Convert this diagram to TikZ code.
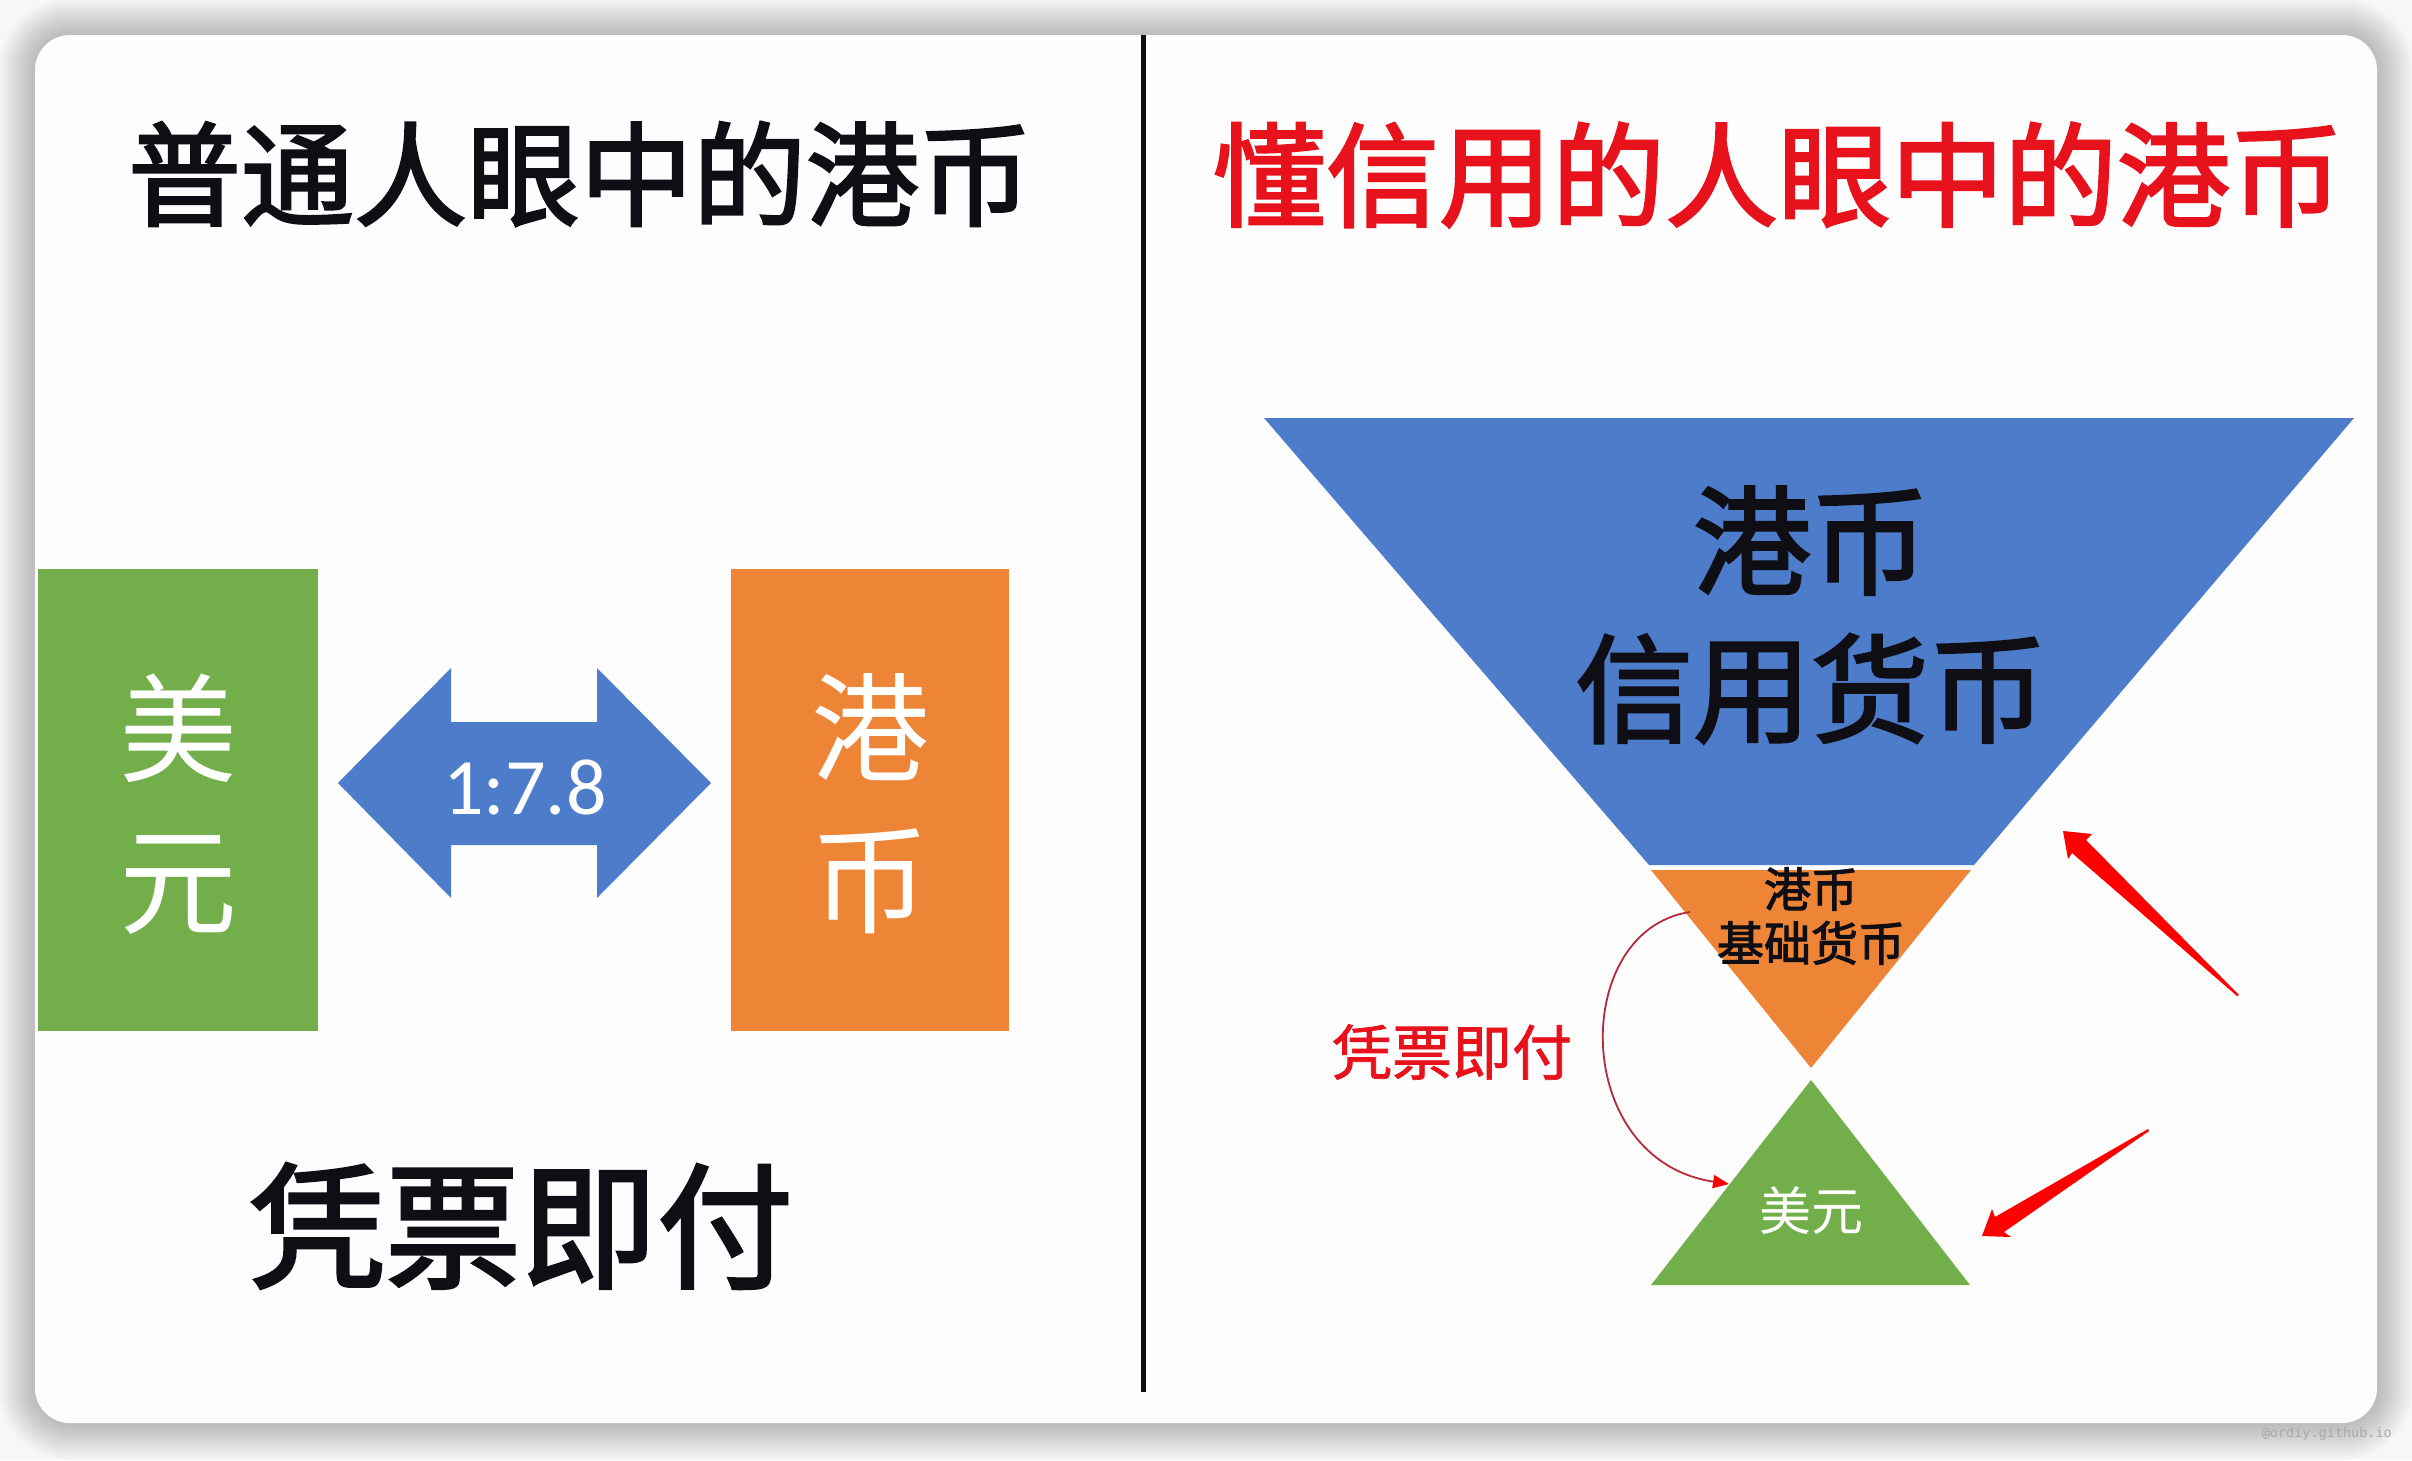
\documentclass[tikz,border=0pt]{standalone}
\usepackage{fontspec}
\newfontfamily\cjk{Noto Sans CJK SC}
\newfontfamily\cjkm{Noto Sans CJK SC}[FakeBold=2.2]
\newfontfamily\cjks{Noto Sans CJK SC}[FakeBold=1.2]
\newfontfamily\cali{Carlito}
\newfontfamily\monof{DejaVu Sans Mono}
\usetikzlibrary{arrows.meta}
\definecolor{bgout}{HTML}{F7F7F7}
\definecolor{cardfill}{HTML}{FDFDFD}
\definecolor{ogreen}{HTML}{72AE4A}
\definecolor{oorange}{HTML}{EE8436}
\definecolor{oblue}{HTML}{4C7CCA}
\definecolor{titlered}{HTML}{E8121C}
\definecolor{inkblack}{HTML}{0E0E14}
\definecolor{arcred}{HTML}{B8283A}
\definecolor{wmgray}{HTML}{A8A8A8}
\tikzset{
  lbl/.style={inner sep=0pt, align=center},
  bigtitle/.style={lbl, font=\cjkm\fontsize{113}{113}\selectfont},
  boxtext/.style={lbl, text=white, font=\cjk\fontsize{118}{152}\selectfont},
  callout/.style={fill=red, draw=none},
}
\begin{document}
\begin{tikzpicture}[x=1pt,y=-1pt]
\useasboundingbox (0,0) rectangle (2412,1460);
% background and shadow
\fill[bgout] (0,0) rectangle (2412,1460);
\foreach \i [evaluate=\i as \d using 3*\i, evaluate=\i as \r using 35+3*\i] in {1,...,12}{
  \fill[black, opacity=0.018, rounded corners=\r pt] (35-\d,35-\d) rectangle (2377+\d,1423+\d);
}
\fill[cardfill, rounded corners=35pt] (35,35) rectangle (2377,1423);
% divider
\coordinate (divtop) at (1143,35);
\coordinate (divbot) at (1143,1392);
\draw[line width=5pt, inkblack] (divtop) -- (divbot);

% ---------- left panel ----------
\node[bigtitle, text=inkblack] (ltitle) at (580,174) {普通人眼中的港币};
\node[fill=ogreen, minimum width=280, minimum height=462, inner sep=0pt] (usdbox) at (178,800) {};
\node[fill=oorange, minimum width=278, minimum height=462, inner sep=0pt] (hkdbox) at (870,800) {};
\node[boxtext] (usdtxt) at (178,804) {美\\元};
\node[boxtext] (hkdtxt) at (870,804) {港\\币};
\fill[oblue] (338,783) -- (451,668) -- (451,722) -- (597,722) -- (597,668) -- (711,783)
  -- (597,898) -- (597,845) -- (451,845) -- (451,898) -- cycle;
\node[lbl, text=white, font=\cali\fontsize{80}{80}\selectfont] (rate) at (525,787) {1:7.8};
\node[lbl, text=inkblack, font=\cjkm\fontsize{136}{136}\selectfont] (lpay) at (521,1226) {凭票即付};

% ---------- right panel ----------
\node[bigtitle, text=titlered] (rtitle) at (1778,175) {懂信用的人眼中的港币};
\fill[oblue] (1264,418) -- (2354,418) -- (1974,865) -- (1649,865) -- cycle;
\fill[oorange] (1651,870) -- (1971,870) -- (1811,1068) -- cycle;
\fill[ogreen] (1811,1080) -- (1970,1285) -- (1651,1285) -- cycle;
\node[lbl, text=inkblack, font=\cjkm\fontsize{118}{148}\selectfont] (credit) at (1811,615) {港币\\信用货币};
\node[lbl, text=inkblack, font=\cjkm\fontsize{47}{54}\selectfont] (base) at (1811,916) {港币\\基础货币};
\node[lbl, text=white, font=\cjk\fontsize{52}{52}\selectfont] (usd2) at (1811,1211) {美元};
\node[lbl, text=titlered, font=\cjks\fontsize{60}{60}\selectfont] (rpay) at (1452,1052) {凭票即付};
\coordinate (arcstart) at (1690,912);
\coordinate (arcend) at (1729,1184);
\draw[arcred, line width=1.8pt, -{Triangle[length=16pt,width=13pt,fill=red,color=red]}]
  (arcstart) .. controls (1570,930) and (1570,1160) .. (arcend);

% red callout arrows
\fill[callout] (2063,831) -- (2092,834) -- (2086,840) -- (2239,995) -- (2237,996)
  -- (2072,853) -- (2068,859) -- cycle;
\fill[callout] (1982,1236) -- (1992,1209) -- (1995,1217) -- (2148,1129) -- (2149,1131)
  -- (2004,1232) -- (2011,1237) -- cycle;

% watermark
\node[anchor=east, inner sep=0pt, text=wmgray, font=\monof\fontsize{13.5}{14}\selectfont] (wm) at (2392,1434) {@ordiy.github.io};
\end{tikzpicture}
\end{document}
